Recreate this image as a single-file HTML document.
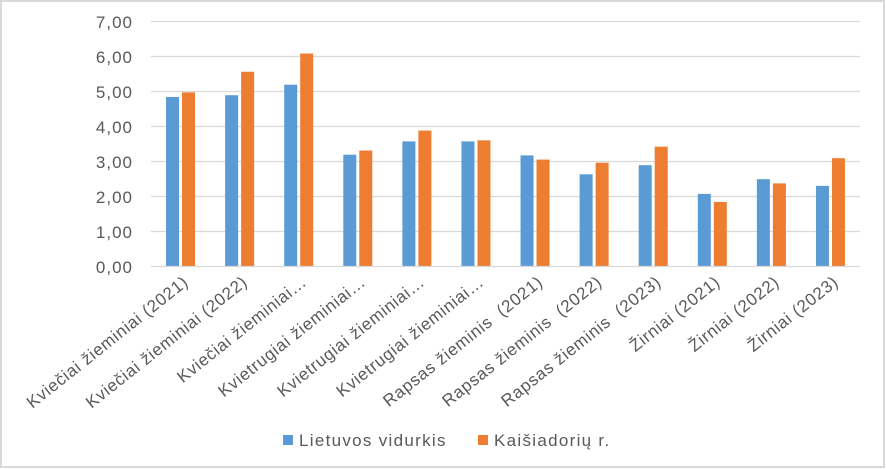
<!DOCTYPE html>
<html><head><meta charset="utf-8"><style>
html,body{margin:0;padding:0;background:#fff;}
svg{display:block;font-family:"Liberation Sans","DejaVu Sans",sans-serif;}
</style></head><body>
<svg width="886" height="469" viewBox="0 0 886 469" xmlns="http://www.w3.org/2000/svg">
<rect x="1" y="1" width="883" height="466" fill="#fff" stroke="#d9d9d9" stroke-width="2"/>
<g stroke="#d9d9d9" stroke-width="1.3">
<line x1="151" x2="860" y1="21.5" y2="21.5"/>
<line x1="151" x2="860" y1="56.5" y2="56.5"/>
<line x1="151" x2="860" y1="91.5" y2="91.5"/>
<line x1="151" x2="860" y1="126.5" y2="126.5"/>
<line x1="151" x2="860" y1="161.5" y2="161.5"/>
<line x1="151" x2="860" y1="196.5" y2="196.5"/>
<line x1="151" x2="860" y1="231.5" y2="231.5"/>
</g>
<g font-size="17" fill="#595959" text-anchor="end" letter-spacing="1">
<text x="133" y="28">7,00</text>
<text x="133" y="63">6,00</text>
<text x="133" y="98">5,00</text>
<text x="133" y="133">4,00</text>
<text x="133" y="168">3,00</text>
<text x="133" y="203">2,00</text>
<text x="133" y="238">1,00</text>
<text x="133" y="273">0,00</text>
</g>
<g id="bars"></g>
<line x1="151" x2="860" y1="266.5" y2="266.5" stroke="#d9d9d9" stroke-width="1.3"/>
<g id="labels" font-size="17" fill="#595959" text-anchor="end" letter-spacing="0.7"></g>
<rect x="283" y="435" width="10" height="10" fill="#5b9bd5"/>
<text x="299" y="446" font-size="17" letter-spacing="1.3" fill="#595959">Lietuvos vidurkis</text>
<rect x="478" y="435" width="10" height="10" fill="#ed7d31"/>
<text x="494" y="446" font-size="17" letter-spacing="1.3" fill="#595959">Kaišiadorių r.</text>
<script>
var b=[4.83,4.88,5.18,3.18,3.56,3.56,3.16,2.62,2.88,2.06,2.48,2.29];
var o=[4.96,5.55,6.07,3.30,3.87,3.59,3.04,2.95,3.41,1.83,2.36,3.08];
var L=["Kviečiai žieminiai (2021)","Kviečiai žieminiai (2022)","Kviečiai žieminiai…","Kvietrugiai žieminiai…","Kvietrugiai žieminiai…","Kvietrugiai žieminiai…","Rapsas žieminis  (2021)","Rapsas žieminis  (2022)","Rapsas žieminis  (2023)","Žirniai (2021)","Žirniai (2022)","Žirniai (2023)"];
var ns="http://www.w3.org/2000/svg",g=document.getElementById("bars"),lg=document.getElementById("labels");
var w=(860-151)/12;
for(var i=0;i<12;i++){
 var c=151+w*(i+0.5);
 [[b[i],c-14.5,"#5b9bd5"],[o[i],c+1.5,"#ed7d31"]].forEach(function(d){
  var r=document.createElementNS(ns,"rect");var h=d[0]*35;
  r.setAttribute("x",d[1]);r.setAttribute("y",266-h);r.setAttribute("width",13);r.setAttribute("height",h);
  r.setAttribute("fill",d[2]);g.appendChild(r);});
 var t=document.createElementNS(ns,"text");
 var x=c+9,y=284;
 t.setAttribute("x",x);t.setAttribute("y",y);t.setAttribute("transform","rotate(-38.5 "+x+" "+y+")");
 t.style.whiteSpace="pre";
 t.textContent=L[i];lg.appendChild(t);
}
</script>
</svg>
</body></html>
